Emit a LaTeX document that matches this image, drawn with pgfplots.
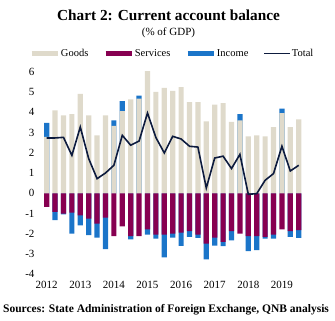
\documentclass[border=0pt]{standalone}
\usepackage{fontspec}
\setmainfont{Liberation Serif}
\usepackage{pgfplots}
\usepackage{pgfplotstable}
\pgfplotsset{compat=1.18}
\definecolor{goodsc}{HTML}{DFDACB}
\definecolor{servc}{HTML}{870051}
\definecolor{incc}{HTML}{1B75C9}
\definecolor{totc}{HTML}{0D1B3E}
\pgfplotstableread{
x goods serv incpos incneg total
1 2.78 -0.67 3.47 nan 2.73
2 4.09 -0.92 nan -1.33 2.73
3 3.85 -1.00 nan -1.04 2.76
4 3.90 -0.95 nan -1.99 1.87
5 4.90 -1.09 nan -1.58 3.27
6 3.85 -1.25 nan -2.07 1.71
7 2.86 -1.50 nan -2.19 0.72
8 3.85 -1.20 nan -2.76 1.00
9 3.32 -2.12 3.60 nan 1.38
10 4.06 -1.63 4.55 nan 2.86
11 4.64 -2.12 nan -2.28 2.37
12 4.67 -2.12 4.82 nan 2.58
13 6.03 -1.78 nan -2.04 3.96
14 5.00 -2.04 nan -2.24 2.75
15 5.20 -2.04 nan -3.17 1.99
16 5.05 -1.99 nan -2.19 2.81
17 5.24 -1.94 nan -2.60 2.68
18 4.50 -1.87 nan -2.15 2.32
19 4.50 -2.04 nan -2.20 2.28
20 3.55 -2.48 nan -3.26 0.26
21 4.37 -2.19 nan -2.58 1.74
22 4.45 -2.40 nan -2.61 1.83
23 3.52 -1.87 nan -2.32 1.22
24 3.60 -1.99 3.90 nan 1.92
25 2.81 -2.12 nan -2.85 -0.05
26 2.86 -2.12 nan -2.81 -0.02
27 2.81 -2.15 nan -2.24 0.64
28 3.27 -2.04 nan -2.24 0.97
29 3.96 -1.78 4.18 nan 2.32
30 3.27 -1.87 nan -2.15 1.10
31 3.65 -1.82 nan -2.20 1.38
}\data
\begin{document}
\begin{tikzpicture}
\path[use as bounding box] (-40.8bp,-46.7bp) rectangle (294.2bp,274.3bp);
\begin{axis}[
  at={(0,0)}, anchor=south west,
  scale only axis, width=263.8bp, height=202.6bp,
  xmin=0.3, xmax=31.7, ymin=-4, ymax=6,
  ytick={-4,-3,...,6},
  xtick={1,5,...,29},
  xticklabels={2012,2013,2014,2015,2016,2017,2018,2019},
  axis line style={draw=none},
  major tick length=0pt, tick style={draw=none},
  /pgf/number format/assume math mode=true,
  ticklabel style={font=\fontsize{11bp}{13bp}\selectfont},
  yticklabel style={xshift=-2.8bp},
  xticklabel style={yshift=-3.7bp},
  clip=false,
  legend columns=4,
  legend style={draw=none, fill=none, at={(0.497,1.09)}, anchor=center,
    font=\fontsize{10.5bp}{12bp}\selectfont,
    nodes={inner sep=1bp},
    /tikz/every even column/.append style={column sep=14bp},
    inner sep=0pt},
  legend cell align=left,
]
\addplot[ybar, bar width=5.2bp, bar shift=0pt, fill=incc, draw=none, forget plot] table[x=x,y=incpos]{\data};
\addplot[ybar, bar width=5.2bp, bar shift=0pt, fill=incc, draw=none, forget plot] table[x=x,y=incneg]{\data};
\addplot[ybar, bar width=5.2bp, bar shift=0pt, fill=goodsc, draw=none, forget plot] table[x=x,y=goods]{\data};
\addplot[ybar, bar width=5.2bp, bar shift=0pt, fill=servc, draw=none, forget plot] table[x=x,y=serv]{\data};
\addplot[totc, line width=1.6bp, mark=none, forget plot] table[x=x,y=total]{\data};
\addlegendimage{legend image code/.code={\draw[goodsc, line width=4.5bp] (0bp,0bp) -- (26bp,0bp);}}
\addlegendentry{Goods}
\addlegendimage{legend image code/.code={\draw[servc, line width=4.5bp] (0bp,0bp) -- (26bp,0bp);}}
\addlegendentry{Services}
\addlegendimage{legend image code/.code={\draw[incc, line width=4.5bp] (0bp,0bp) -- (26bp,0bp);}}
\addlegendentry{Income}
\addlegendimage{legend image code/.code={\draw[totc, line width=1.5bp] (0bp,0bp) -- (26bp,0bp);}}
\addlegendentry{Total}
\end{axis}
\node[anchor=base, font=\fontsize{15.3bp}{18bp}\selectfont\bfseries] at (127.7bp,253.6bp) {Chart 2: Current account balance};
\node[anchor=base, font=\fontsize{11bp}{13bp}\selectfont] at (127.7bp,238.6bp) {(\% of GDP)};
\node[anchor=west, font=\fontsize{11.5bp}{13bp}\selectfont\bfseries, inner sep=0pt] at (-37.8bp,-35.7bp) {Sources: State Administration of Foreign Exchange, QNB analysis};
\end{tikzpicture}
\end{document}
